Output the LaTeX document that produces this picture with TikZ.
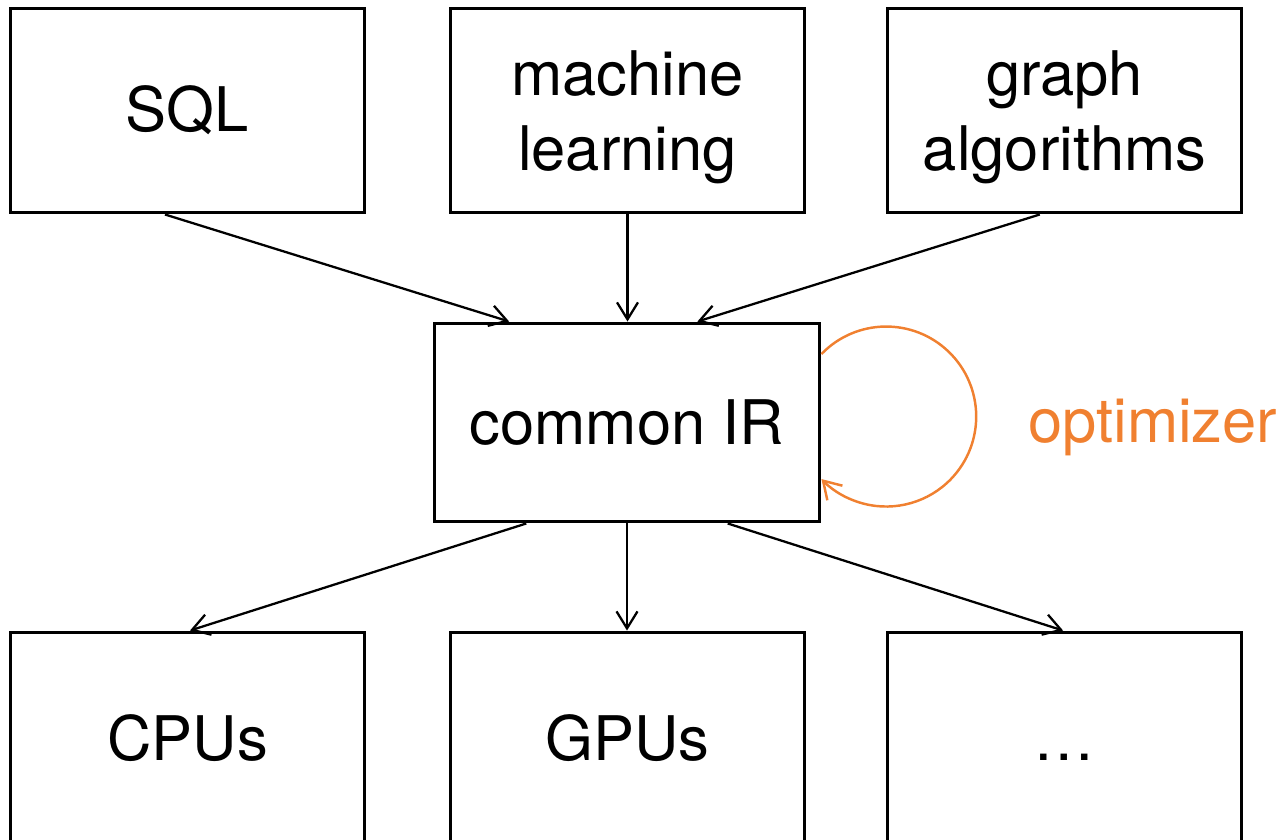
\documentclass[tikz,border=0pt]{standalone}
\usepackage{fontspec}
\setmainfont{TeX Gyre Heros}
\usetikzlibrary{arrows.meta,calc}
\definecolor{optorange}{RGB}{240,128,48}
\tikzset{
  box/.style={draw,line width=1.7pt,minimum width=7.1cm,minimum height=4.1cm,
    align=center,font=\fontsize{35}{42.7}\selectfont},
  twoline/.style={text depth=0pt},
  flow/.style={line width=1.3pt,-{Straight Barb[length=0.34cm,width=0.42cm]}},
}
\begin{document}
\begin{tikzpicture}[x=0.02cm,y=-0.02cm]
\useasboundingbox (0,0) rectangle (1281,839);
% front ends
\node[box] (sql) at (187.5,110.5) {SQL};
\node[box,twoline] (ml) at (627.5,110.5) {machine\\learning};
\node[box,twoline] (graph) at (1064.5,110.5) {graph\\algorithms};
% shared representation
\node[box,minimum width=7.72cm,minimum height=3.98cm] (ir) at (627,422.5) {common IR};
% back ends
\node[box,minimum height=4.24cm] (cpu) at (187.5,738) {CPUs};
\node[box,minimum height=4.24cm] (gpu) at (627.5,738) {GPUs};
\node[box,minimum height=4.24cm,text height=0.88cm] (other) at (1064.5,738) {…};
% arrows in
\draw[flow] ($(sql.south west)!0.437!(sql.south east)$) -- ($(ir.north west)!0.197!(ir.north east)$);
\draw[flow] (ml.south) -- (ml.south |- ir.north);
\draw[flow] ($(graph.south west)!0.431!(graph.south east)$) -- ($(ir.north west)!0.681!(ir.north east)$);
% arrows out
\draw[flow] ($(ir.south west)!0.241!(ir.south east)$) -- ($(cpu.north west)!0.507!(cpu.north east)$);
\draw[flow] (ir.south) -- (ir.south |- gpu.north);
\draw[flow] ($(ir.south west)!0.759!(ir.south east)$) -- ($(other.north west)!0.496!(other.north east)$);
% optimizer loop
\draw[flow,optorange,line width=1.4pt] ([yshift=1.37cm]ir.east) arc[start angle=224,end angle=496,radius=90];
\node[optorange,anchor=base west,font=\fontsize{35}{42.7}\selectfont] (opt) at (1022,442) {optimizer};
\end{tikzpicture}
\end{document}
